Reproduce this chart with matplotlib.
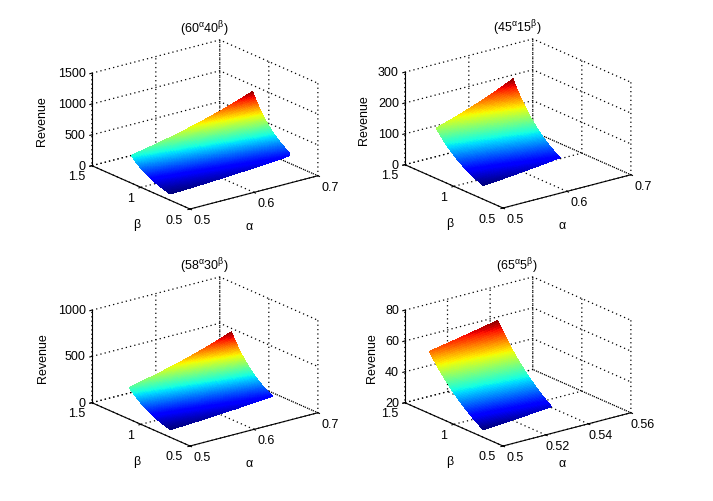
# Four revenue surfaces (A^alpha * B^beta) in MATLAB-like 3D style

import numpy as np
import matplotlib
matplotlib.use('Agg')
import matplotlib.pyplot as plt
from mpl_toolkits.mplot3d import proj3d

plt.rcParams['font.family'] = ['Liberation Sans', 'DejaVu Sans']
plt.rcParams['font.size'] = 9
plt.rcParams['mathtext.fontset'] = 'custom'
plt.rcParams['mathtext.rm'] = 'Liberation Sans'
plt.rcParams['mathtext.it'] = 'Liberation Sans'

# Bases from the titles, e.g. (60^alpha 40^beta)
base_alpha = [60, 45, 58, 65]
base_beta = [40, 15, 30, 5]
titles = [r'$\mathrm{(60^{\alpha}40^{\beta})}$', r'$\mathrm{(45^{\alpha}15^{\beta})}$',
          r'$\mathrm{(58^{\alpha}30^{\beta})}$', r'$\mathrm{(65^{\alpha}5^{\beta})}$']

# alpha / beta range covered by each surface
alpha_range = [(0.5, 0.69), (0.5, 0.62), (0.5, 0.66), (0.5, 0.532)]
beta_range = [(0.7, 1.10), (0.7, 1.18), (0.7, 1.12), (0.7, 1.25)]

# Axes ticks
alpha_ticks = [[0.5, 0.6, 0.7], [0.5, 0.6, 0.7], [0.5, 0.6, 0.7], [0.5, 0.52, 0.54, 0.56]]
beta_ticks = [0.5, 1, 1.5]
rev_ticks = [[0, 500, 1000, 1500], [0, 100, 200, 300], [0, 500, 1000], [20, 40, 60, 80]]

# where the front-bottom corner of each box should land (pixels from top-left)
front_px = [(190, 210), (503, 209), (190, 447), (503, 447)]
box_width_px = 226
rev_label_dx = [-148, -139, -147, -131]

fig = plt.figure(figsize=(7.13, 5.02), dpi=100)
fig.patch.set_facecolor('white')
W = fig.get_size_inches()[0] * fig.dpi
H = fig.get_size_inches()[1] * fig.dpi

axes = []
for i in range(4):
    ax = fig.add_subplot(2, 2, i + 1, projection='3d', proj_type='ortho')
    ax.view_init(elev=19.8, azim=-127.5)
    ax.set_box_aspect((1, 1, 0.61))

    a = np.linspace(alpha_range[i][0], alpha_range[i][1], 60)
    b = np.linspace(beta_range[i][0], beta_range[i][1], 60)
    A, B = np.meshgrid(a, b)
    R = base_alpha[i] ** A * base_beta[i] ** B
    ax.plot_surface(A, B, R, cmap='jet', vmin=R.min(), vmax=R.max(),
                    rstride=1, cstride=1, linewidth=0, antialiased=False)

    ax.set_xlim(alpha_ticks[i][0], alpha_ticks[i][-1])
    ax.set_ylim(beta_ticks[0], beta_ticks[-1])
    ax.set_zlim(rev_ticks[i][0], rev_ticks[i][-1])
    ax.set_xticks(alpha_ticks[i])
    ax.set_yticks(beta_ticks)
    ax.set_zticks(rev_ticks[i])
    ax.set_xticklabels([])
    ax.set_yticklabels([])
    ax.set_zticklabels([])

    for axis in (ax.xaxis, ax.yaxis, ax.zaxis):
        axis.set_pane_color((1, 1, 1, 0))
        axis.pane.set_edgecolor('none')
        axis.line.set_color('k')
        axis.line.set_linewidth(0.8)
        axis._axinfo['grid'].update(color='k', linestyle=(0, (1, 2.5)), linewidth=0.9)
        axis._axinfo['tick']['inward_factor'] = 0.2
        axis._axinfo['tick']['outward_factor'] = 0.0
    axes.append(ax)


def to_px(ax, xs, ys, zs):
    X, Y, _ = proj3d.proj_transform(np.asarray(xs, float), np.asarray(ys, float),
                                    np.asarray(zs, float), ax.get_proj())
    return ax.transData.transform(np.column_stack([X, Y]))


def corners_px(ax):
    x0, x1 = ax.get_xlim()
    y0, y1 = ax.get_ylim()
    z0, z1 = ax.get_zlim()
    xs = [x0, x1, x0, x1, x0, x1, x0, x1]
    ys = [y0, y0, y1, y1, y0, y0, y1, y1]
    zs = [z0, z0, z0, z0, z1, z1, z1, z1]
    return to_px(ax, xs, ys, zs)


# fit each box to its target size and spot
fig.canvas.draw()
for ax in axes:
    p = corners_px(ax)
    w = p[:, 0].max() - p[:, 0].min()
    ax.set_box_aspect((1, 1, 0.61), zoom=box_width_px / w)
fig.canvas.draw()
for i, ax in enumerate(axes):
    p = corners_px(ax)
    dx = front_px[i][0] - p[0, 0]
    dy = (H - front_px[i][1]) - p[0, 1]
    pos = ax.get_position(original=True)
    ax.set_position([pos.x0 + dx / W, pos.y0 + dy / H, pos.width, pos.height])
fig.canvas.draw()


def put(x, y, s, **kw):
    fig.text(x / W, y / H, s, **kw)


# tick labels, axis labels and titles placed like MATLAB does
for i, ax in enumerate(axes):
    x0, y0, z0 = alpha_ticks[i][0], beta_ticks[0], rev_ticks[i][0]
    y1 = beta_ticks[-1]
    n = len(alpha_ticks[i])
    for (px, py), t in zip(to_px(ax, alpha_ticks[i], [y0] * n, [z0] * n), alpha_ticks[i]):
        put(px + 12, py - 11, '%g' % t, ha='center', va='center')
    n = len(beta_ticks)
    for (px, py), t in zip(to_px(ax, [x0] * n, beta_ticks, [z0] * n), beta_ticks):
        put(px - 7, py - 10.5, '%g' % t, ha='right', va='center')
    n = len(rev_ticks[i])
    for (px, py), t in zip(to_px(ax, [x0] * n, [y1] * n, rev_ticks[i]), rev_ticks[i]):
        put(px - 6, py, '%g' % t, ha='right', va='center')

    fx, fy = to_px(ax, [x0], [y0], [z0])[0]
    put(fx + 59, fy - 17, 'α', ha='center', va='center')
    put(fx - 53, fy - 15, 'β', ha='center', va='center')
    put(fx + rev_label_dx[i], fy + 89, 'Revenue', ha='center', va='center', rotation=90)
    put(fx + 14, fy + 181, titles[i], ha='center', va='center')

fig.savefig('out.png', dpi=100)
